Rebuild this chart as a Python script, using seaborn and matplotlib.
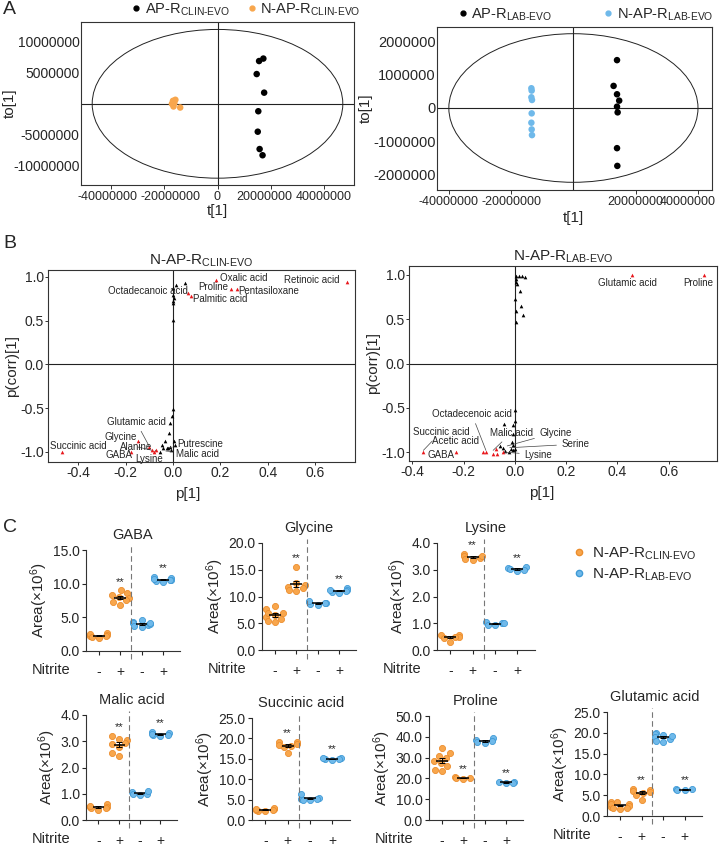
import numpy as np
import pandas as pd
import seaborn as sns
import matplotlib.pyplot as plt
import matplotlib.transforms as mtransforms
from matplotlib.patches import Ellipse
from matplotlib.lines import Line2D
from matplotlib.ticker import FuncFormatter

sns.set_style("ticks")
plt.rcParams["font.family"] = ["Liberation Sans", "DejaVu Sans"]
plt.rcParams["mathtext.fontset"] = "custom"
plt.rcParams["mathtext.rm"] = "Liberation Sans"
plt.rcParams["mathtext.it"] = "Liberation Sans:italic"
plt.rcParams["mathtext.bf"] = "Liberation Sans:bold"
plt.rcParams["axes.unicode_minus"] = False

ORANGE, ORANGE_EDGE = "#F8A64C", "#EC8D2C"
BLUE, BLUE_EDGE = "#6FB9EA", "#3F9AD6"
CLIN = r"$_{\mathrm{CLIN}\text{-}\mathrm{EVO}}$"
LAB = r"$_{\mathrm{LAB}\text{-}\mathrm{EVO}}$"

# ---------- A: score plots ----------
clin_ap_t = [1.56e7, 1.72e7, 1.47e7, 1.75e7, 1.53e7, 1.51e7, 1.58e7, 1.69e7]
clin_ap_to = [6.9e6, 7.3e6, 4.8e6, 1.8e6, -1.2e6, -4.5e6, -7.3e6, -8.3e6]
clin_nap_t = [-1.67e7, -1.58e7, -1.71e7, -1.65e7, -1.40e7, -1.62e7]
clin_nap_to = [4.8e5, 6.5e5, 0.0, -4.3e5, -6.0e5, 1.1e5]

lab_ap_t = [1.40e7, 1.29e7, 1.40e7, 1.47e7, 1.40e7, 1.42e7, 1.40e7, 1.41e7]
lab_ap_to = [1.43e6, 0.66e6, 0.41e6, 0.22e6, 0.04e6, -0.13e6, -1.20e6, -1.73e6]
lab_nap_t = [-1.35e7, -1.34e7, -1.35e7, -1.33e7, -1.34e7, -1.35e7, -1.34e7, -1.33e7]
lab_nap_to = [0.59e6, 0.52e6, 0.32e6, 0.24e6, -0.16e6, -0.44e6, -0.64e6, -0.81e6]

# ---------- B: S-plots ----------
bl_black_x = [0.0, 0.0, 0.0, 0.0, 0.002, 0.013, 0.05, 0.005, 0.0, -0.005, -0.013, -0.016,
              -0.034, -0.048, -0.027, -0.02, -0.013, -0.007, -0.055, -0.04, 0.003, 0.01]
bl_black_y = [0.87, 0.79, 0.73, 0.70, 0.51, 0.91, 0.93, 0.76, -0.51, -0.59, -0.67, -0.78,
              -0.88, -0.92, -0.95, -0.96, -0.94, -0.98, -1.0, -0.96, -0.88, -0.92]
bl_red_x = [0.735, 0.18, 0.245, 0.27, 0.065, 0.078, -0.47, -0.177, -0.149, -0.101, -0.09, -0.08, -0.072]
bl_red_y = [0.94, 0.97, 0.86, 0.86, 0.82, 0.78, -1.0, -1.0, -0.88, -0.94, -0.98, -1.0, -0.98]

br_black_x = [0.006, 0.017, 0.027, 0.040, 0.004, 0.006, 0.008, 0.019, 0.001, 0.004, 0.023, 0.032, 0.006,
              0.0, 0.0, -0.007, -0.043, -0.009, -0.013, -0.007, -0.017, -0.009, 0.0, -0.022, -0.046, -0.038, -0.058]
br_black_y = [0.99, 0.99, 0.99, 0.98, 0.95, 0.92, 0.90, 0.82, 0.73, 0.59, 0.65, 0.55, 0.47,
              -0.53, -0.65, -0.69, -0.68, -0.80, -0.89, -0.92, -0.97, -0.98, -0.97, -1.0, -0.95, -0.99, -0.93]
br_red_x = [0.456, 0.737, -0.357, -0.23, -0.126, -0.113, -0.085, -0.071, -0.075, -0.048]
br_red_y = [1.0, 1.0, -1.0, -1.0, -1.0, -1.0, -1.02, -1.02, -0.97, -1.0]

# label text, anchor, point it refers to (None = no leader line)
bl_labels = [
    ("Oxalic acid", (0.20, 0.99), None), ("Retinoic acid", (0.47, 0.965), None),
    ("Proline", (0.105, 0.885), None), ("Pentasiloxane", (0.275, 0.84), None),
    ("Octadecanoic acid", (-0.275, 0.84), None), ("Palmitic acid", (0.085, 0.745), None),
    ("Glutamic acid", (-0.28, -0.655), (-0.101, -0.93)), ("Glycine", (-0.29, -0.83), None),
    ("Alanine", (-0.222, -0.94), (-0.09, -0.98)), ("GABA", (-0.285, -1.035), None),
    ("Lysine", (-0.16, -1.08), (-0.072, -0.98)), ("Succinic acid", (-0.52, -0.93), None),
    ("Putrescine", (0.017, -0.91), (-0.02, -0.95)), ("Malic acid", (0.013, -1.02), (-0.03, -0.99)),
]
br_labels = [
    ("Glutamic acid", (0.324, 0.91), None), ("Proline", (0.655, 0.91), None),
    ("Succinic acid", (-0.398, -0.77), (-0.357, -0.98)), ("GABA", (-0.339, -1.03), None),
    ("Acetic acid", (-0.324, -0.875), None), ("Octadecenoic acid", (-0.324, -0.57), (-0.113, -0.98)),
    ("Malic acid", (-0.097, -0.78), (-0.085, -0.98)), ("Glycine", (0.094, -0.78), (-0.03, -0.93)),
    ("Serine", (0.18, -0.91), (-0.02, -0.95)), ("Lysine", (0.035, -1.03), (-0.04, -1.0)),
]

# ---------- C: metabolite areas (x10^6) ----------
CONDS = ["CLIN -", "CLIN +", "LAB -", "LAB +"]
gaba = ([2.6, 2.4, 2.2, 2.0, 2.3, 2.5, 2.1],
        [9.0, 8.6, 8.3, 8.0, 7.8, 7.6, 7.3, 6.9],
        [4.6, 4.3, 4.1, 3.9, 3.7, 3.5, 4.0, 4.2],
        [11.0, 10.8, 10.6, 10.4, 10.2, 10.5, 10.7])
glycine = ([8.3, 7.6, 7.0, 6.6, 6.2, 5.8, 5.2, 6.9, 5.5],
           [15.5, 12.5, 11.8, 11.3, 11.0, 12.2, 11.5],
           [9.0, 8.8, 8.6, 8.4, 9.1, 8.7],
           [11.6, 11.2, 10.9, 10.6, 11.3, 11.0])
lysine = ([0.55, 0.50, 0.55, 0.45, 0.30, 0.50],
          [3.60, 3.50, 3.45, 3.40, 3.38, 3.52],
          [1.05, 1.00, 0.95, 0.92, 1.02],
          [3.10, 3.05, 3.00, 2.95, 3.02])
malic = ([0.60, 0.50, 0.45, 0.40, 0.55, 0.50, 0.45],
         [3.20, 3.10, 3.05, 2.95, 2.90, 2.80, 2.55, 2.45],
         [1.05, 1.00, 0.95, 0.98, 1.10],
         [3.35, 3.30, 3.25, 3.20, 3.22, 3.28])
succinic = ([2.3, 2.5, 2.6, 2.9, 2.4, 2.7, 2.2],
            [19.2, 19.0, 18.7, 18.5, 18.2, 17.8, 16.3],
            [5.2, 5.0, 5.3, 6.3, 4.9, 5.1],
            [15.2, 15.0, 14.9, 15.1, 14.8])
proline = ([34.8, 32.0, 31.0, 30.0, 28.5, 27.5, 25.8, 24.0, 23.5],
           [20.5, 20.3, 20.0, 19.8],
           [39.5, 38.5, 38.0, 37.5, 37.0],
           [18.5, 18.2, 18.0, 17.8])
glutamic = ([3.4, 3.0, 2.5, 2.2, 2.0, 1.8, 2.8, 3.3, 1.9],
            [6.6, 6.2, 6.0, 5.8, 5.5, 5.0, 3.8],
            [20.0, 19.8, 19.5, 19.0, 18.5, 18.0, 17.8, 19.2],
            [6.5, 6.4, 6.3, 6.2])

W, H = 720, 849
fig = plt.figure(figsize=(W / 100, H / 100), dpi=100)


def px_axes(x0, y0, x1, y1):
    return fig.add_axes([x0 / W, 1 - y1 / H, (x1 - x0) / W, (y1 - y0) / H])


def box(ax):
    for s in ax.spines.values():
        s.set_color("#333333")
        s.set_linewidth(0.8)
    ax.tick_params(width=0.7, color="#333333")


def nudge_xlabels(ax, shifts_px):
    # shift individual tick labels sideways so the long numbers do not collide
    for lab, dx in zip(ax.get_xticklabels(), shifts_px):
        lab.set_transform(lab.get_transform() + mtransforms.ScaledTranslation(dx / 100, 0, fig.dpi_scale_trans))


def score_panel(ax, ap_t, ap_to, nap_t, nap_to, col, ell, xlim, ylim, xt, yt, yfs):
    df = pd.DataFrame({"t": ap_t + nap_t, "to": ap_to + nap_to,
                       "grp": ["AP"] * len(ap_t) + ["NAP"] * len(nap_t)})
    sns.scatterplot(data=df, x="t", y="to", hue="grp", palette={"AP": "black", "NAP": col},
                    s=22, linewidth=0, ax=ax, legend=False, zorder=3)
    ax.add_patch(Ellipse((0, 0), 2 * ell[0], 2 * ell[1], fill=False, lw=0.7, ec="#222222"))
    ax.axhline(0, color="#222222", lw=0.8)
    ax.axvline(0, color="#222222", lw=0.8)
    ax.set_xlim(*xlim)
    ax.set_ylim(*ylim)
    ax.set_xticks(xt)
    ax.set_yticks(yt)
    fmt = FuncFormatter(lambda v, p: f"{int(round(v))}")
    ax.xaxis.set_major_formatter(fmt)
    ax.yaxis.set_major_formatter(fmt)
    ax.tick_params(axis="x", labelsize=9, pad=1, length=3)
    ax.tick_params(axis="y", labelsize=yfs, pad=1, length=0)
    ax.set_xlabel("t[1]", fontsize=11, labelpad=1)
    ax.set_ylabel("to[1]", fontsize=11, labelpad=0)
    box(ax)
    h = [Line2D([], [], ls="", marker="o", color="black", ms=3.5),
         Line2D([], [], ls="", marker="o", color=col, ms=3.5)]
    return h


# A left
axA1 = px_axes(81, 22, 354, 185)
h = score_panel(axA1, clin_ap_t, clin_ap_to, clin_nap_t, clin_nap_to, ORANGE,
                (4.7e7, 1.2e7), (-5.12e7, 5.12e7), (-1.31e7, 1.32e7),
                [-4e7, -2e7, 0, 2e7, 4e7], [-1e7, -5e6, 5e6, 1e7], 10)
nudge_xlabels(axA1, [-3, 6, 0, -7, 0])
axA1.yaxis.set_label_coords(-0.235, 0.5)
axA1.legend(h, ["AP-R" + CLIN, "N-AP-R" + CLIN], loc="lower center", bbox_to_anchor=(0.6, 0.99),
            ncol=2, frameon=False, fontsize=10.5, handletextpad=0.1, columnspacing=1.0,
            borderaxespad=0, handlelength=1)

# A right
axA2 = px_axes(437, 27, 712, 190)
h = score_panel(axA2, lab_ap_t, lab_ap_to, lab_nap_t, lab_nap_to, BLUE,
                (4.0e7, 2.22e6), (-4.38e7, 4.45e7), (-2.45e6, 2.42e6),
                [-4e7, -2e7, 2e7, 4e7], [-2e6, -1e6, 0, 1e6, 2e6], 10.5)
nudge_xlabels(axA2, [0, 0, 0, -10])
axA2.xaxis.set_label_coords((573 - 437) / 275, -0.13)
axA2.legend(h, ["AP-R" + LAB, "N-AP-R" + LAB], loc="lower center", bbox_to_anchor=(0.535, 0.99),
            ncol=2, frameon=False, fontsize=10.5, handletextpad=0.1, columnspacing=3.3,
            borderaxespad=0, handlelength=1)


def splot(ax, bx, by, rx, ry, labels, title, xlim, ylim, xlab_x):
    black = pd.DataFrame({"p": bx, "pc": by})
    red = pd.DataFrame({"p": rx, "pc": ry})
    sns.scatterplot(data=black, x="p", y="pc", color="black", marker="^", s=7, linewidth=0, ax=ax, zorder=3)
    sns.scatterplot(data=red, x="p", y="pc", color="#E8161B", marker="^", s=7, linewidth=0, ax=ax, zorder=4)
    ax.axhline(0, color="#222222", lw=0.8)
    ax.axvline(0, color="#222222", lw=0.8)
    for txt, pos, pt in labels:
        if pt is None:
            ax.text(pos[0], pos[1], txt, fontsize=7, ha="left", va="center", zorder=5)
        else:
            ax.annotate(txt, xy=pt, xytext=pos, fontsize=7, ha="left", va="center", zorder=5,
                        arrowprops=dict(arrowstyle="-", lw=0.5, color="#444444", shrinkA=1, shrinkB=0))
    ax.set_xlim(*xlim)
    ax.set_ylim(*ylim)
    ax.set_xticks([-0.4, -0.2, 0.0, 0.2, 0.4, 0.6])
    ax.set_yticks([-1.0, -0.5, 0.0, 0.5, 1.0])
    fmt = FuncFormatter(lambda v, p: f"{v:.1f}")
    ax.xaxis.set_major_formatter(fmt)
    ax.yaxis.set_major_formatter(fmt)
    ax.tick_params(labelsize=10, pad=1, length=2)
    ax.set_xlabel("p[1]", fontsize=11, labelpad=1)
    ax.xaxis.set_label_coords(xlab_x, -0.13)
    ax.set_ylabel("p(corr)[1]", fontsize=11, labelpad=1)
    ax.set_title(title, fontsize=11, pad=4)
    box(ax)


axB1 = px_axes(48, 270, 355, 462)
splot(axB1, bl_black_x, bl_black_y, bl_red_x, bl_red_y, bl_labels, "N-AP-R" + CLIN,
      (-0.527, 0.768), (-1.115, 1.08), (188 - 48) / 307)
axB2 = px_axes(409, 266, 717, 461)
splot(axB2, br_black_x, br_black_y, br_red_x, br_red_y, br_labels, "N-AP-R" + LAB,
      (-0.413, 0.788), (-1.10, 1.10), (542 - 409) / 308)


def area_panel(ax, name, groups, top, step, nitrite):
    rows = []
    for cond, vals in zip(CONDS, groups):
        for v in vals:
            rows.append((cond, cond.split()[0], v))
    df = pd.DataFrame(rows, columns=["cond", "strain", "area"])
    for strain, fc, ec in [("CLIN", ORANGE, ORANGE_EDGE), ("LAB", BLUE, BLUE_EDGE)]:
        sns.swarmplot(data=df[df.strain == strain], x="cond", y="area", order=CONDS, color=fc,
                      edgecolor=ec, linewidth=0.6, size=4.4, ax=ax, zorder=2, clip_on=False)
    for i, vals in enumerate(groups):
        m = np.mean(vals)
        se = np.std(vals, ddof=1) / np.sqrt(len(vals))
        ax.hlines(m, i - 0.27, i + 0.27, color="black", lw=1.1, zorder=3)
        ax.errorbar(i, m, yerr=se, color="black", lw=0.7, capsize=2, capthick=0.7, zorder=3)
        if i in (1, 3):
            ax.text(i, max(vals) + top * 0.035, "**", ha="center", va="bottom", fontsize=8)
    ax.axvline(1.5, ymin=-0.08, ymax=1.04, clip_on=False, color="#777777", lw=0.8, ls=(0, (5, 3)))
    ax.set_xlim(-0.6, 3.8)
    ax.set_ylim(0, top)
    ax.set_yticks(np.arange(0, top + step / 2, step))
    ax.yaxis.set_major_formatter(FuncFormatter(lambda v, p: f"{v:.1f}"))
    ax.set_xticks(range(4))
    ax.set_xticklabels(["-", "+", "-", "+"])
    ax.tick_params(axis="x", length=3, pad=7, labelsize=10)
    ax.tick_params(axis="y", length=3, pad=1.5, labelsize=10)
    ax.set_xlabel("")
    ax.set_ylabel("Area(×10$^{6}$)", fontsize=11, labelpad=2)
    ax.set_title(name, fontsize=10.5, pad=8)
    sns.despine(ax=ax)
    for s in ["left", "bottom"]:
        ax.spines[s].set_linewidth(0.8)
        ax.spines[s].set_color("#333333")
    if nitrite:
        ax.annotate("Nitrite", xy=(0, 0), xycoords="axes fraction", xytext=(-11, -14),
                    textcoords="offset points", ha="right", va="center", fontsize=10.5)


panels = [
    ("GABA", gaba, 15, 5, (86, 550, 180, 651), True),
    ("Glycine", glycine, 20, 5, (262, 543, 356, 650), True),
    ("Lysine", lysine, 4, 1, (437, 543, 535, 650), True),
    ("Malic acid", malic, 4, 1, (86, 715, 177, 820), True),
    ("Succinic acid", succinic, 25, 5, (252, 718, 350, 820), False),
    ("Proline", proline, 50, 10, (429, 716, 523, 820), True),
    ("Glutamic acid", glutamic, 25, 5, (607, 712, 702, 816), True),
]
for name, groups, top, step, rect, nit in panels:
    area_panel(px_axes(*rect), name, groups, top, step, nit)

leg_h = [Line2D([], [], ls="", marker="o", color=ORANGE, mec=ORANGE_EDGE, ms=4.5),
         Line2D([], [], ls="", marker="o", color=BLUE, mec=BLUE_EDGE, ms=4.5)]
fig.legend(leg_h, ["N-AP-R" + CLIN, "N-AP-R" + LAB], loc="upper left",
           bbox_to_anchor=(0.775, 1 - 532 / H), frameon=False, fontsize=11,
           handletextpad=0.3, labelspacing=0.3, handlelength=1)

for letter, y in [("A", 10), ("B", 243), ("C", 527)]:
    fig.text(0.004, 1 - y / H, letter, fontsize=14, va="center", ha="left")

fig.savefig("out.png", dpi=100)
